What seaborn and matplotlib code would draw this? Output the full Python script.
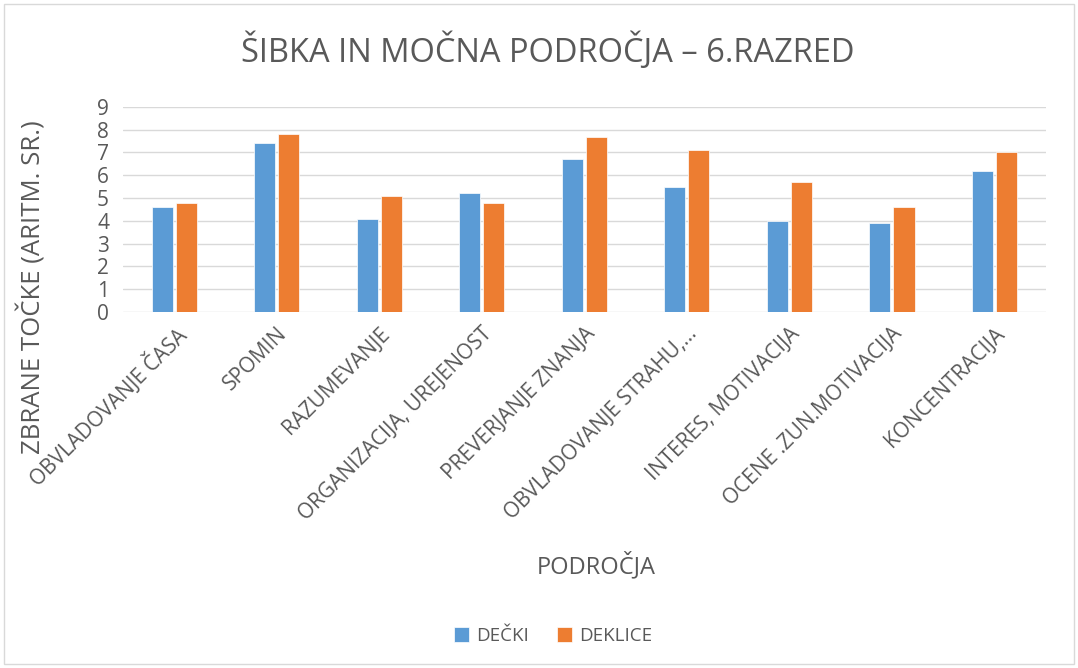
import matplotlib
matplotlib.use("Agg")
import matplotlib.pyplot as plt
import seaborn as sns
import pandas as pd
from matplotlib.patches import Rectangle

categories = ["OBVLADOVANJE ČASA", "SPOMIN", "RAZUMEVANJE", "ORGANIZACIJA, UREJENOST",
              "PREVERJANJE ZNANJA", "OBVLADOVANJE STRAHU,...", "INTERES, MOTIVACIJA",
              "OCENE .ZUN.MOTIVACIJA", "KONCENTRACIJA"]
decki = [4.6, 7.4, 4.1, 5.2, 6.7, 5.5, 4.0, 3.9, 6.2]
deklice = [4.8, 7.8, 5.1, 4.8, 7.7, 7.1, 5.7, 4.6, 7.0]
series_names = ["DEČKI", "DEKLICE"]
yticks = list(range(0, 10))

df = pd.DataFrame({
    "cat": categories * 2,
    "val": decki + deklice,
    "ser": [series_names[0]] * len(categories) + [series_names[1]] * len(categories),
})

sns.set_theme(style="white")
plt.rcParams["font.family"] = ["Open Sans", "DejaVu Sans"]
txt = "#595959"

fig = plt.figure(figsize=(10.78, 6.68), dpi=100)
ax = fig.add_axes([0.114, 0.533, 0.856, 0.307])
sns.barplot(data=df, x="cat", y="val", hue="ser", order=categories,
            hue_order=series_names, palette=["#5B9BD5", "#ED7D31"], saturation=1,
            width=0.47, gap=0.12, edgecolor="white", linewidth=0.5, ax=ax, legend=True)

ax.set_ylim(0, 9)
ax.set_yticks(yticks)
ax.set_xlim(-0.5, len(categories) - 0.5)
ax.yaxis.grid(True, color="#D9D9D9", linewidth=1)
ax.set_axisbelow(True)
for s in ["top", "right", "left", "bottom"]:
    ax.spines[s].set_visible(False)
ax.tick_params(axis="both", length=0, colors=txt)
ax.tick_params(axis="y", labelsize=15, pad=10)
ax.set_xticks(range(len(categories)))
ax.set_xticklabels(categories, rotation=45, ha="right", rotation_mode="anchor",
                   fontsize=15, color=txt)
ax.tick_params(axis="x", pad=8)
ax.set_ylabel("")
ax.set_xlabel("")

fig.text(0.030, 0.570, "ZBRANE TOČKE (ARITM. SR.)", rotation=90, ha="center", va="center",
         fontsize=18.5, color=txt)
fig.text(0.508, 0.923, "ŠIBKA IN MOČNA PODROČJA – 6.RAZRED", ha="center", va="center",
         fontsize=23.5, color=txt)
fig.text(0.553, 0.154, "PODROČJA", ha="center", va="center", fontsize=17, color=txt)

leg = ax.legend(loc="center", bbox_to_anchor=(0.513, 0.048), bbox_transform=fig.transFigure,
                ncol=2, frameon=False, fontsize=13.5, handlelength=0.8, handleheight=0.8,
                columnspacing=1.5, handletextpad=0.4)
for t in leg.get_texts():
    t.set_color(txt)

fig.patches.append(Rectangle((0.004, 0.006), 0.992, 0.988, transform=fig.transFigure,
                             fill=False, edgecolor="#D9D9D9", linewidth=1))

fig.savefig("out.png", dpi=100, facecolor="white")
